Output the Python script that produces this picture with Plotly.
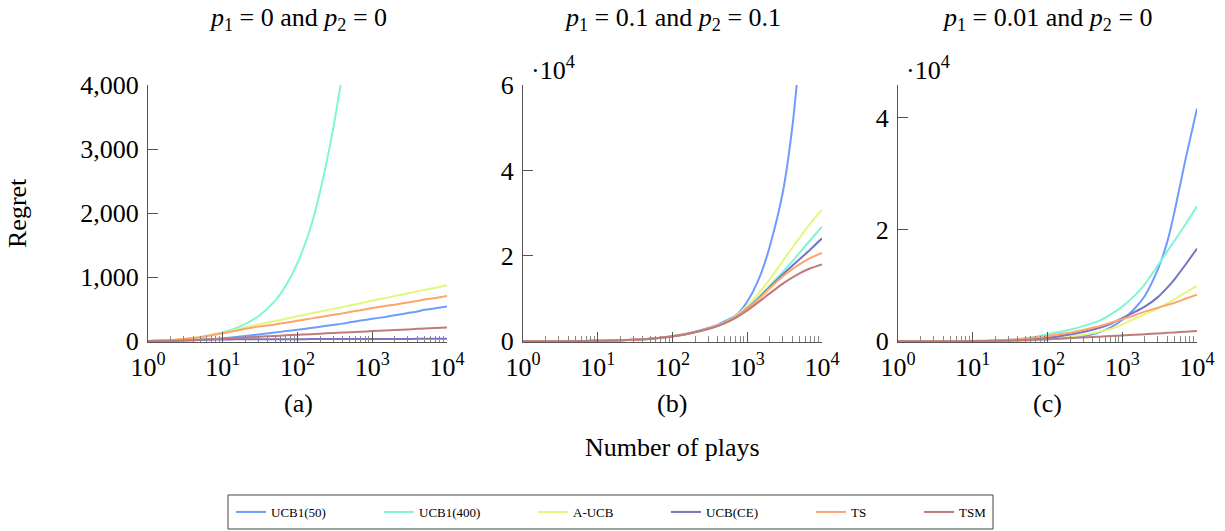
import plotly.graph_objects as go

# ---------------- data ----------------
plays = [1, 2, 3, 5, 7, 10, 15, 20, 30, 50, 70, 100, 150, 200, 300, 400, 500, 700,
         1000, 1500, 2000, 3000, 4000, 5000, 7000, 10000]
series_names = ["UCB1(50)", "UCB1(400)", "A-UCB", "UCB(CE)", "TS", "TSM"]
series_colors = ["#6f9bff", "#80f5d6", "#e2f77c", "#7575c2", "#ffa46e", "#c07a7a"]

# (a) p1 = 0 and p2 = 0
a_ucb1_50 = [2, 6, 12, 22, 32, 45, 65, 82, 105, 135, 158, 180, 205, 225, 255, 275, 295, 322,
             350, 380, 405, 440, 465, 490, 515, 542]
a_ucb1_400 = [2, 15, 32, 65, 98, 140, 205, 270, 390, 630, 870, 1220, 1780, 2330, 3320, 4200, 5000, None,
              None, None, None, None, None, None, None, None]
a_aucb = [2, 15, 35, 65, 95, 130, 180, 220, 262, 315, 350, 390, 432, 462, 505, 535, 558, 593,
          633, 675, 705, 748, 778, 801, 836, 874]
a_ucbce = [2, 8, 14, 20, 25, 28, 29, 30, 31, 31, 32, 32, 33, 33, 33, 34, 34, 34,
           35, 35, 36, 36, 37, 37, 37, 38]
a_ts = [2, 15, 35, 63, 92, 125, 165, 195, 228, 262, 290, 320, 353, 378, 412, 435, 455, 485,
        518, 550, 571, 605, 630, 650, 675, 706]
a_tsm = [2, 8, 14, 24, 32, 40, 50, 58, 70, 82, 92, 100, 110, 118, 128, 135, 140, 148,
         158, 168, 175, 185, 193, 200, 206, 213]

# (b) p1 = 0.1 and p2 = 0.1
b_ucb1_50 = [0, 8, 20, 45, 70, 105, 160, 220, 340, 580, 820, 1200, 1750, 2250, 3100, 3800, 4700, 6000,
             9300, 15500, 22200, 35000, 50000, 67000, None, None]
b_ucb1_400 = [0, 8, 20, 45, 70, 105, 160, 220, 330, 560, 800, 1150, 1650, 2150, 2900, 3600, 4300, 5700,
              7800, 10700, 13000, 16300, 18700, 20700, 23700, 26800]
b_aucb = [0, 8, 20, 45, 70, 105, 160, 220, 330, 560, 800, 1160, 1670, 2180, 2950, 3700, 4400, 5900,
          8300, 11700, 14500, 18800, 21900, 24200, 27600, 30800]
b_ucbce = [0, 8, 20, 45, 70, 105, 160, 220, 330, 560, 800, 1150, 1650, 2150, 2900, 3600, 4300, 5650,
           7700, 10500, 12700, 15700, 17700, 19200, 21500, 24100]
b_ts = [0, 8, 20, 45, 70, 105, 160, 220, 330, 560, 800, 1150, 1650, 2150, 2900, 3600, 4300, 5600,
        7600, 10300, 12400, 15200, 16900, 18000, 19500, 20700]
b_tsm = [0, 8, 20, 45, 70, 105, 160, 220, 330, 550, 790, 1130, 1620, 2100, 2850, 3550, 4200, 5450,
         7200, 9500, 11200, 13500, 14900, 15900, 17100, 18000]

# (c) p1 = 0.01 and p2 = 0
c_ucb1_50 = [0, 3, 6, 12, 18, 28, 45, 60, 90, 150, 230, 330, 480, 620, 900, 1250, 1650, 2500,
             3800, 6000, 8100, 12900, 17800, 23200, 32500, 41700]
c_ucb1_400 = [0, 3, 8, 20, 35, 60, 100, 150, 250, 550, 780, 1250, 1700, 2050, 2700, 3250, 3700, 4800,
              6200, 8300, 10200, 13600, 16100, 18000, 20900, 24200]
c_aucb = [0, 2, 5, 10, 15, 22, 40, 60, 100, 200, 300, 450, 650, 780, 1150, 1450, 1750, 2200,
          3000, 4100, 4800, 5900, 6800, 7500, 8700, 9900]
c_ucbce = [0, 3, 6, 14, 22, 35, 60, 85, 140, 260, 400, 620, 950, 1200, 1650, 2050, 2400, 3100,
           4150, 5300, 6200, 7900, 9600, 11100, 13700, 16600]
c_ts = [0, 3, 8, 20, 35, 55, 100, 150, 250, 450, 700, 950, 1300, 1500, 2000, 2400, 2700, 3300,
        3950, 4700, 5300, 6000, 6500, 6900, 7600, 8340]
c_tsm = [0, 2, 5, 10, 15, 25, 45, 70, 120, 240, 310, 400, 500, 570, 680, 760, 820, 920,
         1040, 1170, 1260, 1400, 1500, 1580, 1700, 1840]

panel_titles = ["<i>p</i><sub>1</sub> = 0 and <i>p</i><sub>2</sub> = 0",
                "<i>p</i><sub>1</sub> = 0.1 and <i>p</i><sub>2</sub> = 0.1",
                "<i>p</i><sub>1</sub> = 0.01 and <i>p</i><sub>2</sub> = 0"]
panel_letters = ["(a)", "(b)", "(c)"]

x_tickvals = [1, 10, 100, 1000, 10000]
x_ticktext = ["10<sup>0</sup>", "10<sup>1</sup>", "10<sup>2</sup>", "10<sup>3</sup>", "10<sup>4</sup>"]

a_ytickvals = [0, 1000, 2000, 3000, 4000]
a_yticktext = ["0", "1,000", "2,000", "3,000", "4,000"]
b_ytickvals = [0, 20000, 40000, 60000]
b_yticktext = ["0", "2", "4", "6"]
c_ytickvals = [0, 20000, 40000]
c_yticktext = ["0", "2", "4"]

# ---------------- figure ----------------
W, H = 1225, 531
FONT = "Liberation Serif"
TXT = 26

def px_x(v):
    return v / W

def px_y(v):
    return 1 - v / H

x_domains = [[px_x(148), px_x(447)], [px_x(523), px_x(822)], [px_x(898), px_x(1197)]]
y_domain = [px_y(342), px_y(85)]

panels = [
    [a_ucb1_50, a_ucb1_400, a_aucb, a_ucbce, a_ts, a_tsm],
    [b_ucb1_50, b_ucb1_400, b_aucb, b_ucbce, b_ts, b_tsm],
    [c_ucb1_50, c_ucb1_400, c_aucb, c_ucbce, c_ts, c_tsm],
]
y_ranges = [[-12, 4000], [-180, 60000], [-140, 45900]]
y_ticks = [(a_ytickvals, a_yticktext), (b_ytickvals, b_yticktext), (c_ytickvals, c_yticktext)]
legend_ids = ["legend", "legend2", "legend3", "legend4", "legend5", "legend6"]
legend_left = [231, 379, 533, 666, 811, 919]

fig = go.Figure()
for p, data in enumerate(panels):
    xa = "x" if p == 0 else f"x{p+1}"
    ya = "y" if p == 0 else f"y{p+1}"
    for k, (name, color, vals) in enumerate(zip(series_names, series_colors, data)):
        fig.add_trace(go.Scatter(
            x=plays, y=vals, mode="lines", name=name,
            line=dict(color=color, width=2, shape="spline", smoothing=0.7),
            xaxis=xa, yaxis=ya, showlegend=(p == 0), legend=legend_ids[k], connectgaps=False,
        ))

minor_vals = [m * 10 ** d for d in range(4) for m in range(2, 10)]
axis_color = "#555555"
layout = dict(
    width=W, height=H, margin=dict(l=0, r=0, t=0, b=0, autoexpand=False),
    paper_bgcolor="white", plot_bgcolor="white",
    font=dict(family=FONT, color="black"),
    showlegend=True,
)
for k, lid in enumerate(legend_ids):
    layout[lid] = dict(orientation="h", x=px_x(legend_left[k]), y=px_y(512), xanchor="left",
                       yanchor="middle", bgcolor="rgba(0,0,0,0)", borderwidth=0,
                       font=dict(family=FONT, size=13, color="black"))
for p in range(3):
    sfx = "" if p == 0 else str(p + 1)
    layout["xaxis" + sfx] = dict(
        type="log", domain=x_domains[p], range=[0, 4], anchor="y" + sfx,
        tickvals=x_tickvals, ticktext=x_ticktext, ticks="inside", ticklen=10,
        tickcolor=axis_color, tickwidth=1, ticklabelstandoff=2,
        minor=dict(tickvals=minor_vals, ticks="inside", ticklen=6, tickcolor="#888888", tickwidth=1),
        showline=True, linecolor=axis_color, linewidth=1.3, showgrid=False, zeroline=False,
        tickfont=dict(family=FONT, size=TXT, color="black"), fixedrange=True,
    )
    tv, tt = y_ticks[p]
    layout["yaxis" + sfx] = dict(
        domain=y_domain, range=y_ranges[p], anchor="x" + sfx,
        tickvals=tv, ticktext=tt, ticks="inside", ticklen=10, tickcolor=axis_color, tickwidth=1,
        ticklabelstandoff=3,
        showline=True, linecolor=axis_color, linewidth=1.3, showgrid=False, zeroline=False,
        tickfont=dict(family=FONT, size=TXT, color="black"), fixedrange=True,
    )
fig.update_layout(**layout)

# legend frame
fig.add_shape(type="rect", xref="paper", yref="paper",
              x0=px_x(228), x1=px_x(993), y0=px_y(529), y1=px_y(495),
              line=dict(color="#444444", width=1), fillcolor="rgba(0,0,0,0)", layer="below")

annotations = []
centers = [298, 672, 1047]
for p in range(3):
    annotations.append(dict(text=panel_titles[p], x=px_x(centers[p]), y=px_y(19), xref="paper", yref="paper",
                            showarrow=False, font=dict(family=FONT, size=TXT), xanchor="center", yanchor="middle"))
    annotations.append(dict(text=panel_letters[p], x=px_x(centers[p]), y=px_y(403), xref="paper", yref="paper",
                            showarrow=False, font=dict(family=FONT, size=TXT), xanchor="center", yanchor="middle"))
for xl in (529, 904):
    annotations.append(dict(text="·10<sup>4</sup>", x=px_x(xl), y=px_y(68), xref="paper", yref="paper",
                            showarrow=False, font=dict(family=FONT, size=TXT), xanchor="left", yanchor="middle"))
annotations.append(dict(text="Number of plays", x=px_x(672), y=px_y(447), xref="paper", yref="paper",
                        showarrow=False, font=dict(family=FONT, size=TXT), xanchor="center", yanchor="middle"))
annotations.append(dict(text="Regret", x=px_x(18), y=px_y(213), xref="paper", yref="paper", textangle=-90,
                        showarrow=False, font=dict(family=FONT, size=TXT), xanchor="center", yanchor="middle"))
fig.update_layout(annotations=annotations)

fig.write_html("out.html")
